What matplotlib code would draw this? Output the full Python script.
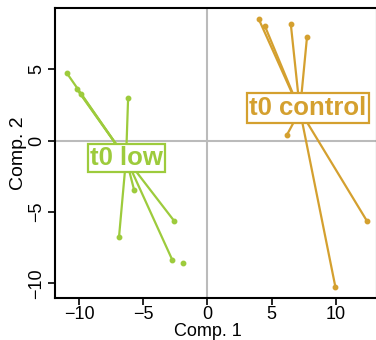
import numpy as np
import matplotlib.pyplot as plt

plt.rcParams['font.family'] = ['Liberation Sans', 'DejaVu Sans']

# group "t0 low"
low_x = [-10.97, -10.19, -9.87, -6.19, -5.72, -2.59, -6.90, -2.74]
low_y = [4.73, 3.61, 3.26, 2.98, -3.47, -5.64, -6.76, -8.37]
low_cent = (-6.35, -1.25)
# stray point without a spider line
extra_x = [-1.90]
extra_y = [-8.58]

# group "t0 control"
ctl_x = [4.00, 4.47, 6.50, 7.76, 6.19, 12.44, 9.98]
ctl_y = [8.51, 8.04, 8.14, 7.25, 0.39, -5.64, -10.28]
ctl_cent = (7.21, 2.10)
ctl_label_pos = (7.84, 2.28)

green = '#9dcb3c'
orange = '#d4a02f'

fig = plt.figure(figsize=(3.76, 3.40), dpi=100)
ax = fig.add_axes([0.146, 0.1235, 0.856, 0.8525])

ax.axhline(0, color='#bbbbbb', lw=1.5, zorder=0)
ax.axvline(0, color='#bbbbbb', lw=1.5, zorder=0)

for xs, ys, c, col in [(low_x, low_y, low_cent, green), (ctl_x, ctl_y, ctl_cent, orange)]:
    for x, y in zip(xs, ys):
        ax.plot([c[0], x], [c[1], y], color=col, lw=1.6, zorder=2)
    ax.plot(xs, ys, 'o', color=col, ms=3.2, zorder=3)
ax.plot(extra_x, extra_y, 'o', color=green, ms=3.2, zorder=3)

ax.text(low_cent[0], low_cent[1], 't0 low', color=green, fontsize=18.5, fontweight='bold',
        ha='center', va='center', zorder=5,
        bbox=dict(boxstyle='square,pad=0.08', fc='white', ec=green, lw=1.6))
ax.text(ctl_label_pos[0], ctl_label_pos[1], 't0 control', color=orange, fontsize=18.5,
        fontweight='bold', ha='center', va='center', zorder=5,
        bbox=dict(boxstyle='square,pad=0.1', fc='white', ec=orange, lw=1.6))

ax.set_xlim(-11.9, 13.2)
ax.set_ylim(-11.03, 9.28)
ax.set_xticks([-10, -5, 0, 5, 10])
ax.set_yticks([-10, -5, 0, 5])
ax.set_xticklabels(['\u221210', '\u22125', '0', '5', '10'])
ax.set_yticklabels(['\u221210', '\u22125', '0', '5'], rotation=90, va='center')
ax.tick_params(labelsize=13, length=5, width=1.2, pad=2)
ax.tick_params(axis='x', pad=1)
for s in ax.spines.values():
    s.set_linewidth(1.5)

ax.set_xlabel('Comp. 1', fontsize=13, va='center')
ax.xaxis.set_label_coords(0.475, -0.117)
ax.set_ylabel('Comp. 2', fontsize=14, labelpad=1)

fig.savefig('out.png', dpi=100)
